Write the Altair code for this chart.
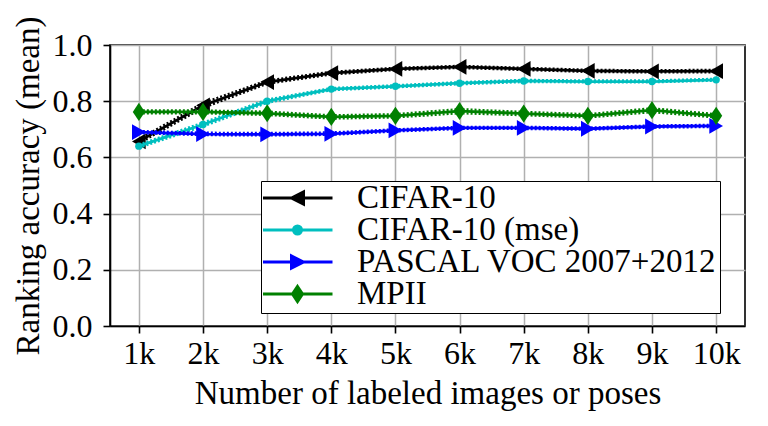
import altair as alt
import pandas as pd

# Number of labeled samples (thousands)
k_labels = [1, 2, 3, 4, 5, 6, 7, 8, 9, 10]

series_names = ["CIFAR-10", "CIFAR-10 (mse)", "PASCAL VOC 2007+2012", "MPII"]
series_colors = ["#000000", "#00bfbf", "#0000ff", "#008000"]

# Mean ranking accuracy per dataset
cifar = [0.657, 0.785, 0.868, 0.900, 0.915, 0.922, 0.915, 0.908, 0.906, 0.907]
cifar_mse = [0.640, 0.717, 0.800, 0.843, 0.853, 0.864, 0.872, 0.870, 0.870, 0.876]
pascal = [0.690, 0.683, 0.682, 0.684, 0.696, 0.705, 0.705, 0.702, 0.710, 0.712]
mpii = [0.762, 0.762, 0.757, 0.744, 0.748, 0.765, 0.756, 0.748, 0.768, 0.748]

# Spread of the runs (lower / upper), drawn dotted
cifar_lo = [0.650, 0.776, 0.862, 0.895, 0.911, 0.918, 0.911, 0.904, 0.902, 0.903]
cifar_hi = [0.664, 0.794, 0.874, 0.905, 0.919, 0.926, 0.919, 0.912, 0.910, 0.912]
cifar_mse_lo = [0.634, 0.710, 0.794, 0.839, 0.849, 0.860, 0.868, 0.867, 0.867, 0.873]
cifar_mse_hi = [0.646, 0.724, 0.806, 0.847, 0.857, 0.868, 0.876, 0.874, 0.874, 0.880]
pascal_lo = [0.686, 0.679, 0.678, 0.680, 0.692, 0.701, 0.701, 0.698, 0.706, 0.708]
pascal_hi = [0.694, 0.688, 0.687, 0.689, 0.700, 0.709, 0.709, 0.706, 0.714, 0.716]
mpii_lo = [0.757, 0.757, 0.751, 0.738, 0.742, 0.757, 0.750, 0.742, 0.761, 0.742]
mpii_hi = [0.767, 0.767, 0.763, 0.750, 0.754, 0.772, 0.762, 0.754, 0.775, 0.754]

means = [cifar, cifar_mse, pascal, mpii]
lows = [cifar_lo, cifar_mse_lo, pascal_lo, mpii_lo]
highs = [cifar_hi, cifar_mse_hi, pascal_hi, mpii_hi]

rows = []
for name, m, lo, hi in zip(series_names, means, lows, highs):
    for kk, a, b, c in zip(k_labels, m, lo, hi):
        rows.append({"k": kk, "series": name, "mean": a, "lo": b, "hi": c})
df = pd.DataFrame(rows)

# marker style per series
marker_shapes = [
    "triangle-left",
    "circle",
    "triangle-right",
    "M0,-1L0.67,0L0,1L-0.67,0Z",
]
marker_sizes = [250, 55, 250, 330]

# legend symbols: a line with the marker at its middle
# (unit = 10 px at symbolSize 400)
legend_paths = [
    "M-1.7,0L5.3,0M1.2,0L2.4,-0.6L2.4,0.6Z",
    "M-1.7,0L5.3,0M1.4,0A0.4,0.4,0,1,1,2.2,0A0.4,0.4,0,1,1,1.4,0Z",
    "M-1.7,0L5.3,0M2.4,0L1.2,-0.6L1.2,0.6Z",
    "M-1.7,0L5.3,0M1.8,-0.75L2.3,0L1.8,0.75L1.3,0Z",
]

x_enc = alt.X(
    "k:Q",
    scale=alt.Scale(domain=[0.55, 10.45], nice=False, zero=False),
    axis=alt.Axis(
        values=k_labels,
        labelExpr="datum.value + 'k'",
        title="Number of labeled images or poses",
    ),
)
y_scale = alt.Scale(domain=[0, 1], nice=False)
y_axis = alt.Axis(
    values=[0, 0.2, 0.4, 0.6, 0.8, 1.0],
    format=".1f",
    title="Ranking accuracy (mean)",
)

base = alt.Chart(df)
layers = []
for name, col, shp, sz in zip(series_names, series_colors, marker_shapes, marker_sizes):
    sub = base.transform_filter(alt.datum.series == name)
    for bound in ["lo", "hi"]:
        layers.append(
            sub.mark_line(color=col, strokeWidth=2.2, strokeDash=[2, 2]).encode(
                x=x_enc, y=alt.Y(f"{bound}:Q", scale=y_scale, axis=y_axis)
            )
        )
    layers.append(
        sub.mark_line(color=col, strokeWidth=2.8).encode(
            x=x_enc, y=alt.Y("mean:Q", scale=y_scale, axis=y_axis)
        )
    )
    layers.append(
        sub.mark_point(
            color=col, filled=True, shape=shp, size=sz, opacity=1
        ).encode(x=x_enc, y=alt.Y("mean:Q", scale=y_scale, axis=y_axis))
    )

legend_def = alt.Legend(
    title=None,
    orient="none",
    legendX=151,
    legendY=136,
    symbolSize=400,
    symbolStrokeWidth=3,
    labelOffset=61,
    labelFontSize=33,
    labelFont="Liberation Serif",
    labelColor="black",
    clipHeight=30,
    rowPadding=-3,
    padding=2,
    strokeColor="black",
    fillColor="white",
    cornerRadius=0,
    labelLimit=600,
)
legend_layer = base.transform_filter("false").mark_point(
    filled=True, opacity=1, strokeWidth=3
).encode(
    x=x_enc,
    y=alt.Y("mean:Q", scale=y_scale, axis=y_axis),
    color=alt.Color(
        "series:N",
        scale=alt.Scale(domain=series_names, range=series_colors),
        legend=legend_def,
    ),
    stroke=alt.Stroke(
        "series:N",
        scale=alt.Scale(domain=series_names, range=series_colors),
        legend=legend_def,
    ),
    shape=alt.Shape(
        "series:N",
        scale=alt.Scale(domain=series_names, range=legend_paths),
        legend=legend_def,
    ),
)
layers.append(legend_layer)

chart = (
    alt.layer(*layers)
    .properties(
        width=635,
        height=281,
        autosize=alt.AutoSizeParams(type="none"),
        padding={"left": 110, "top": 45, "right": 23, "bottom": 100},
    )
    .configure_view(stroke="black", strokeWidth=1.6)
    .configure_axis(
        labelFont="Liberation Serif",
        titleFont="Liberation Serif",
        labelFontSize=32,
        titleFontSize=33,
        labelColor="black",
        titleColor="black",
        titleFontWeight="normal",
        domainColor="black",
        domainWidth=1.6,
        tickColor="black",
        tickWidth=1.6,
        tickSize=7,
        gridColor="#b0b0b0",
        gridWidth=1.5,
    )
    .configure_axisX(labelPadding=5, titlePadding=8)
    .configure_axisY(labelPadding=11, titlePadding=7)
)

chart.save("out.html", embed_options={"renderer": "svg", "actions": False})
